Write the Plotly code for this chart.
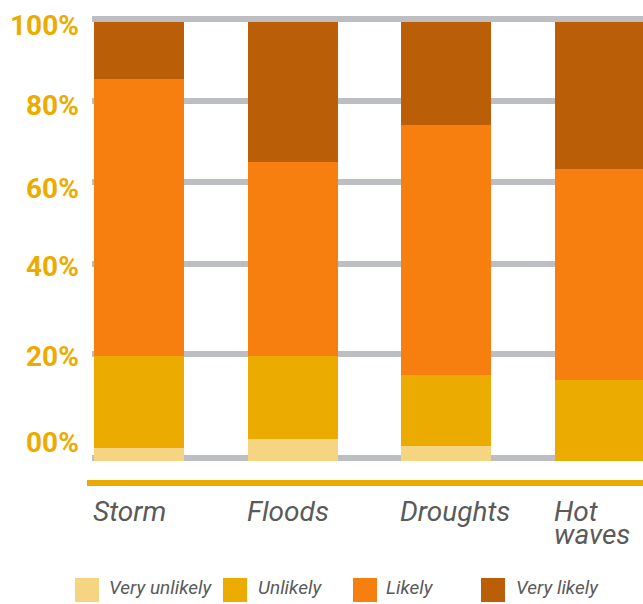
import plotly.graph_objects as go

# ---------------- data ----------------
categories = ["Storm", "Floods", "Droughts", "Hot waves"]
category_lines = [["Storm"], ["Floods"], ["Droughts"], ["Hot", "waves"]]

series_names = ["Very unlikely", "Unlikely", "Likely", "Very likely"]
very_unlikely = [3, 5, 3.5, 0]
unlikely = [21, 19, 16, 18.5]
likely = [63, 44, 57, 48]
very_likely = [13, 32, 23.5, 33.5]
series_values = [very_unlikely, unlikely, likely, very_likely]

y_tick_labels = ["00%", "20%", "40%", "60%", "80%", "100%"]

# ---------------- style / layout ----------------
colors = ["#F5D482", "#ECAB00", "#F77F0F", "#BA5E07"]
gold = "#ECAB00"
grid_gray = "#BDBEC2"
text_gray = "#5A5A5A"

W, H = 643, 604
L, R, T, B = 92, 0, 10, 134
PW, PH = W - L - R, H - T - B

def px_x(x):
    return (x - L) / PW

def px_y(y):
    return (H - B - y) / PH

# gridline positions (as drawn in the reference, slightly off the data scale)
grid_vals = [0.7, 24.4, 44.8, 63.5, 81.9, 100.6]
label_vals = [4.1, 23.7, 44.2, 62.1, 81.0, 99.2]

fig = go.Figure()
for name, vals, col in zip(series_names, series_values, colors):
    fig.add_trace(go.Bar(
        x=categories, y=vals, name=name,
        marker=dict(color=col, line=dict(width=0)),
        width=0.585, showlegend=False, hoverinfo="x+y+name",
    ))

annotations = []
# y labels
for v, t in zip(label_vals, y_tick_labels):
    annotations.append(dict(
        x=px_x(81), xref="paper", xanchor="right",
        y=v, yref="y", yanchor="middle",
        text=t, showarrow=False,
        font=dict(family="Roboto", size=28, color=gold, weight="bold"),
    ))
# category labels
for cat, lines in zip(categories, category_lines):
    for j, line in enumerate(lines):
        annotations.append(dict(
            x=cat, xref="x", xanchor="left", xshift=-48,
            y=px_y(512), yref="paper", yanchor="middle", yshift=-22 * j,
            text=line, showarrow=False,
            font=dict(family="Roboto", size=28, color=text_gray, style="italic"),
        ))

shapes = [dict(
    type="line", xref="paper", yref="paper",
    x0=px_x(87), x1=1.0, y0=px_y(483), y1=px_y(483),
    line=dict(color=gold, width=6),
)]

# manual legend
legend_sq_x = [75, 223, 353, 481]
legend_tx_x = [107, 256, 384, 514]
for name, col, sx, tx in zip(series_names, colors, legend_sq_x, legend_tx_x):
    shapes.append(dict(
        type="rect", xref="paper", yref="paper",
        x0=px_x(sx), x1=px_x(sx + 24), y0=px_y(602), y1=px_y(578),
        fillcolor=col, line=dict(width=0),
    ))
    annotations.append(dict(
        x=px_x(tx), xref="paper", xanchor="left",
        y=px_y(587), yref="paper", yanchor="middle",
        text=name, showarrow=False,
        font=dict(family="Roboto", size=19, color=text_gray, style="italic"),
    ))

fig.update_layout(
    width=W, height=H,
    margin=dict(l=L, r=R, t=T, b=B),
    paper_bgcolor="white", plot_bgcolor="white",
    barmode="stack", bargap=0.4,
    xaxis=dict(
        type="category", range=[-0.304, 3.278],
        showticklabels=False, showgrid=False, zeroline=False, showline=False,
        fixedrange=True,
    ),
    yaxis=dict(
        range=[-2.05, 102.66],
        tickvals=grid_vals, showticklabels=False,
        showgrid=True, gridcolor=grid_gray, gridwidth=6,
        zeroline=False, showline=False, fixedrange=True,
    ),
    annotations=annotations,
    shapes=shapes,
    showlegend=False,
)

fig.write_html(
    "out.html",
    config={"displayModeBar": False},
    post_script="document.body.style.margin='0';document.body.style.overflow='hidden';",
)
